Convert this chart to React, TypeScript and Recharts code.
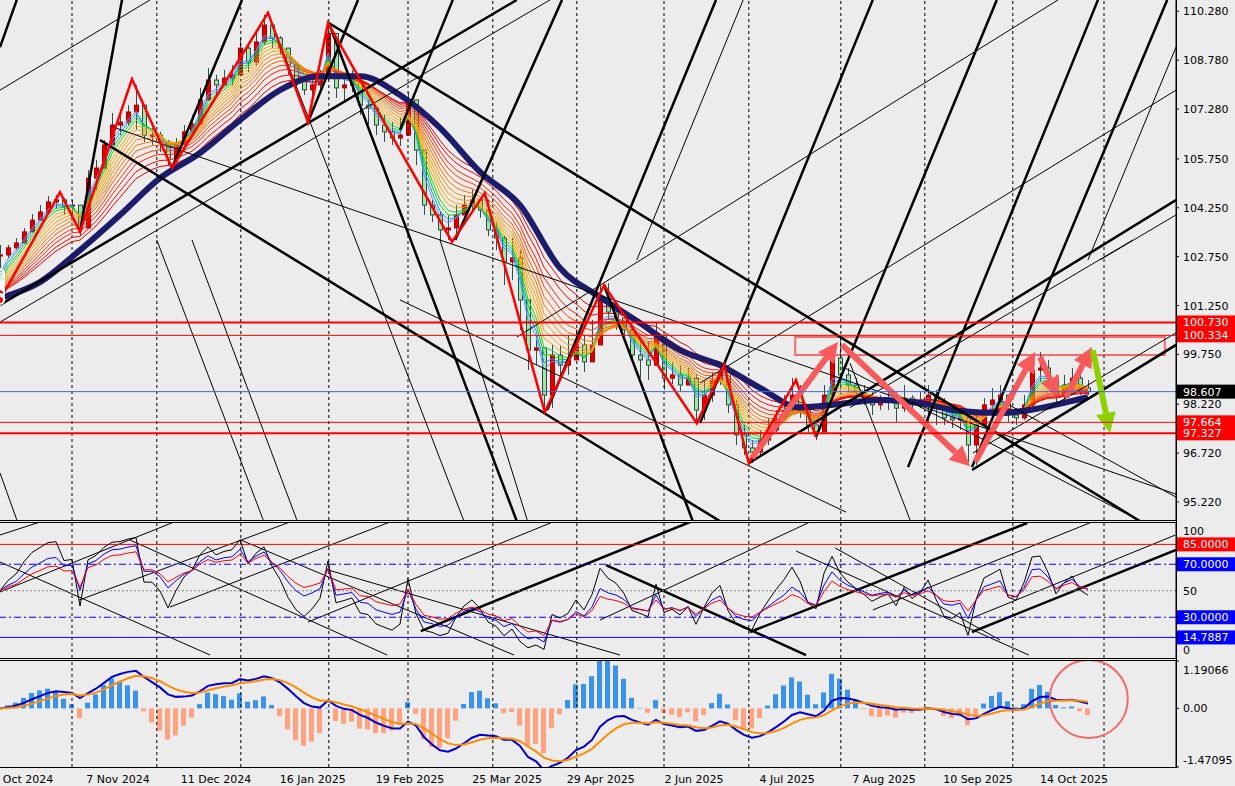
import React from "react";
import {
  ComposedChart,
  Bar,
  Line,
  XAxis,
  YAxis,
  ReferenceLine,
  ReferenceArea,
  ReferenceDot,
  Cell,
} from "recharts";

// one candle per two trading days
const closes = [
  102.8, 103.02, 103.17, 103.51, 103.87, 104.12, 104.43, 104.49, 104.3, 104.33,
  103.63, 105.16, 105.47, 106.18, 106.79, 106.88, 107.19, 107.4, 106.48, 106.48,
  106.27, 105.78, 106.18, 106.58, 106.82, 107.56, 108.17, 108.02, 108.23, 108.33,
  109.15, 108.72, 109.34, 109.86, 109.46, 109.15, 108.63, 108.17, 107.87, 108.02,
  108.23, 109.6, 107.93, 108.02, 108.11, 107.4, 107.31, 106.79, 106.58, 106.39,
  106.48, 107.56, 106.02, 104.33, 104.03, 103.57, 103.63, 104.03, 104.33, 104.49,
  104.18, 103.57, 103.32, 102.59, 102.71, 101.42, 99.88, 99.95, 98.5, 99.73,
  99.42, 99.58, 100.04, 99.52, 100.04, 101.42, 101.05, 100.87, 100.5, 99.73,
  99.58, 99.42, 100.34, 99.02, 99.12, 98.81, 99.02, 98.04, 98.5, 98.96,
  99.21, 98.2, 97.28, 96.88, 96.75, 97.12, 97.43, 97.74, 98.04, 98.5,
  98.2, 97.58, 97.37, 98.5, 99.64, 99.12, 98.81, 98.6, 98.41, 98.2,
  98.29, 98.35, 98.1, 98.41, 98.2, 98.29, 98.5, 98.2, 97.8, 97.74,
  97.8, 96.97, 97.58, 98.2, 98.35, 98.5, 97.89, 97.8, 98.2, 99.27,
  99.33, 99.02, 98.5, 98.81, 99.02, 98.72, 98.607,
];
const highs = [
  103.11, 103.11, 103.32, 103.63, 104.06, 104.33, 104.61, 104.64, 104.55, 104.49,
  104.12, 105.41, 105.72, 106.33, 107.16, 107.19, 107.4, 108.02, 107.0, 106.7,
  106.58, 106.33, 106.39, 106.79, 107.1, 107.93, 108.54, 108.33, 108.48, 108.63,
  109.46, 109.25, 109.64, 110.17, 109.83, 109.52, 109.03, 108.54, 108.23, 108.33,
  108.48, 109.89, 108.42, 108.36, 108.48, 108.05, 107.56, 107.25, 107.1, 106.88,
  107.0, 107.8, 107.56, 105.78, 104.49, 104.12, 104.03, 104.33, 104.64, 104.8,
  104.55, 104.49, 103.81, 103.41, 103.32, 102.95, 100.81, 100.34, 99.88, 100.04,
  100.04, 100.34, 100.5, 100.34, 100.81, 101.88, 101.94, 101.33, 101.05, 100.65,
  100.19, 100.13, 100.74, 99.73, 99.52, 99.42, 99.33, 99.12, 98.96, 99.21,
  99.42, 99.12, 98.35, 97.58, 97.12, 97.43, 97.8, 98.04, 98.5, 99.03,
  98.81, 98.2, 97.74, 98.81, 99.88, 100.25, 99.33, 99.03, 98.81, 98.6,
  98.5, 98.6, 98.6, 98.81, 98.5, 98.6, 98.81, 98.66, 98.41, 98.2,
  98.1, 97.74, 97.89, 98.41, 98.72, 98.81, 98.5, 98.1, 98.5, 99.64,
  99.82, 99.58, 99.12, 99.12, 99.33, 99.21, 98.96,
];
const lows = [
  102.4, 102.71, 102.95, 103.2, 103.72, 103.94, 104.18, 104.24, 104.03, 104.03,
  103.38, 104.24, 104.8, 105.56, 106.33, 106.48, 106.79, 106.64, 106.27, 106.18,
  105.96, 105.56, 105.87, 106.27, 106.64, 106.79, 107.56, 107.71, 108.02, 108.02,
  108.48, 108.42, 108.63, 109.25, 109.15, 108.94, 108.33, 107.93, 107.71, 107.62,
  107.8, 108.17, 107.62, 107.5, 107.8, 107.1, 106.79, 106.48, 106.27, 106.18,
  106.15, 106.79, 105.56, 104.03, 103.81, 103.2, 103.26, 103.41, 104.03, 104.12,
  103.94, 103.38, 102.95, 101.88, 102.03, 100.5, 99.27, 99.42, 97.98, 98.1,
  99.03, 99.12, 99.73, 99.21, 99.58, 100.19, 100.81, 100.5, 100.31, 99.52,
  99.03, 98.96, 99.52, 98.66, 98.84, 98.6, 98.81, 97.64, 97.74, 98.29,
  98.81, 97.95, 96.97, 96.66, 96.42, 96.66, 96.97, 97.37, 97.68, 97.98,
  97.8, 97.37, 97.12, 97.49, 98.6, 98.66, 98.6, 98.35, 98.2, 97.89,
  98.04, 98.04, 97.68, 97.98, 98.04, 98.1, 97.68, 97.58, 97.58, 97.49,
  97.43, 96.45, 96.35, 97.58, 97.98, 98.2, 97.68, 97.58, 97.74, 98.04,
  98.9, 98.81, 98.2, 98.2, 98.6, 98.5, 98.5,
];

// thick navy moving average, read every 5 candles
const navyK = [0, 5, 10, 15, 20, 25, 30, 35, 40, 45, 50, 55, 60, 65, 70, 75, 80, 85, 90, 95, 100, 105, 110, 115, 120, 125, 130, 135, 136];
const navyP = [
  101.48, 101.97, 102.95, 104.03, 105.16, 105.93, 106.94, 107.86, 108.29, 108.29,
  107.71, 106.7, 105.35, 104.33, 102.4, 101.51, 100.71, 99.88, 99.42, 98.72,
  98.12, 98.23, 98.35, 98.26, 98.01, 97.95, 98.1, 98.38, 98.44,
];

// red zigzag swing points
const zigK = [0, 7.5, 10, 16.5, 21.5, 33.5, 38.5, 41, 56.5, 60.6, 68.1, 75.5, 87.1, 90.5, 93.6, 99.5, 102];
const zigP = [101.42, 104.73, 103.51, 108.2, 105.47, 110.23, 106.88, 109.92, 103.2, 104.7, 97.98, 101.88, 97.64, 99.42, 96.41, 98.96, 97.21];

const priceTicks = [110.28, 108.78, 107.28, 105.75, 104.25, 102.75, 101.25, 99.75, 98.22, 96.72, 95.22];
const dateTicks = [3.5, 14.75, 27, 39.1, 51.25, 63.4, 75.1, 86.75, 98.4, 110.5, 122.25, 134.25];
const dateLabels = [
  "Oct 2024", "7 Nov 2024", "11 Dec 2024", "16 Jan 2025", "19 Feb 2025", "25 Mar 2025",
  "29 Apr 2025", "2 Jun 2025", "4 Jul 2025", "7 Aug 2025", "10 Sep 2025", "14 Oct 2025",
];
const gridDays = [9, 19.6, 30.1, 41.1, 51, 61.6, 72.1, 83, 93.6, 105.1, 115.6, 126.6, 138];

// trend lines [k1, price1, k2, price2]
const thickLines = [
  [0, 101.27, 64.6, 110.63],
  [12.5, 106.33, 90, 94.63],
  [41.1, 109.92, 142.5, 94.63],
  [0, 109.18, 2.1, 110.63],
  [10, 103.51, 15.25, 110.63],
  [21.5, 105.47, 30.25, 110.63],
  [38.5, 106.88, 44.75, 110.63],
  [68.4, 98.04, 89.5, 110.63],
  [87.5, 97.64, 109.1, 110.63],
  [102, 97.21, 124.6, 110.63],
  [113.5, 96.29, 137.25, 110.63],
  [121.5, 96.29, 145.9, 110.63],
  [93.6, 96.41, 147, 104.49],
  [121.5, 96.2, 147, 100.04],
  [41.1, 109.92, 64.6, 94.63],
  [75.5, 101.88, 86.6, 94.63],
  [56.9, 103.26, 70.25, 110.63],
  [50, 106.64, 56.6, 110.63],
];
const thinLines = [
  [0, 107.86, 18.75, 110.63],
  [0, 100.74, 68.75, 110.63],
  [19.6, 103.26, 32.9, 94.67],
  [24, 103.26, 37.1, 94.67],
  [33.5, 110.23, 58, 94.63],
  [14.1, 106.73, 147, 95.46],
  [0, 96.11, 2.1, 94.67],
  [64.6, 100.28, 132.25, 110.63],
  [87.5, 98.87, 147, 107.86],
  [136, 102.65, 147, 109.18],
  [137.5, 102.65, 147, 104.03],
  [121.6, 96.72, 147, 100.41],
  [106.25, 98.12, 141.6, 103.26],
  [125, 98.35, 147, 95.37],
  [105.4, 99.36, 141.6, 94.76],
  [106.25, 99.48, 113.75, 94.67],
  [79.6, 102.65, 92.9, 110.63],
  [50, 101.42, 105.75, 94.91],
  [55, 103.26, 65.9, 94.67],
];
const rsiThick = [
  [52.6, 19.6, 86.25, 101.9],
  [93.75, 18.9, 128.4, 101.1],
  [121.5, 18.9, 147, 80.8],
  [75.75, 69.4, 100.75, 1.5],
];
const rsiThin = [
  [0, 92.1, 5, 101.9],
  [0, 49.1, 21.75, 101.9],
  [0, 71.7, 26.25, 1.5],
  [16.25, 88.3, 48.4, 1.5],
  [30.1, 88.3, 64.25, 1.5],
  [41, 65.7, 77.5, 1.5],
  [9.9, 43, 36.25, 101.9],
  [21.25, 37.7, 48.75, 101.9],
  [38.5, 26.4, 69.1, 101.9],
  [75, 27.9, 101.25, 101.9],
  [109.1, 35.5, 136.5, 101.9],
  [121.5, 29.4, 146.9, 92],
  [99.5, 80, 128.6, 1.5],
  [104.4, 82.3, 125, 12.8],
];

// salmon / green arrows [k1, p1, k2, p2]
const redArrows = [
  [94, 96.57, 104.75, 100.13],
  [105.25, 100.04, 121.25, 96.32],
  [121.9, 96.45, 129.4, 99.82],
  [130, 99.67, 132.25, 98.44],
  [133.25, 98.44, 136.5, 99.98],
];
const greenArrow = [136.6, 99.88, 138.75, 97.34];

const ribbonPeriods = [2.5, 3, 3.6, 4.2, 5, 5.8, 6.7, 7.7, 8.8, 10, 11.5, 13, 15, 17];
const ribbonColors = [
  "#5f93f0", "#1e90ff", "#00e000", "#2ccc2c", "#ffa500", "#ffa500", "#ff9c00",
  "#ff8c00", "#ff7400", "#ff5a00", "#ff3c00", "#ff2000", "#ff0000", "#e80000",
];

const ema = (vals: number[], period: number, seed: number) => {
  const a = 2 / (period + 1);
  let e = seed;
  return vals.map((v) => (e = e + a * (v - e)));
};

// Wilder RSI, averages start level so the first values sit near 50
const rsi = (vals: number[], n: number) => {
  let ag = 0.15;
  let al = 0.15;
  return vals.map((v, i) => {
    if (i === 0) return 50;
    const ch = v - vals[i - 1];
    ag = (ag * (n - 1) + Math.max(ch, 0)) / n;
    al = (al * (n - 1) + Math.max(-ch, 0)) / n;
    return al === 0 ? 100 : 100 - 100 / (1 + ag / al);
  });
};

const ribbons = ribbonPeriods.map((p) => ema(closes, p, navyP[0]));
const rows = closes.map((c, i) => {
  const open = i ? closes[i - 1] : c;
  const high = Math.max(highs[i], open, c);
  const low = Math.min(lows[i], open, c);
  const r: any = { k: i, close: c, open, high, low, range: [low, high] };
  ribbons.forEach((s, j) => (r["r" + j] = s[i]));
  return r;
});

const fast = ema(closes, 6, closes[0]);
const slow = ema(closes, 13, closes[0]);
const macd = fast.map((f, i) => f - slow[i]);
const signal = ema(macd, 5, 0);
const rBlack = rsi(closes, 5);
const rBlue = rsi(closes, 9);
const rRed = rsi(closes, 13);
const ind = closes.map((_, i) => ({
  k: i,
  macd: macd[i],
  signal: signal[i],
  hist: 3.6 * (macd[i] - signal[i]),
  rb: rBlack[i],
  rbl: rBlue[i],
  rr: rRed[i],
}));

const navyData = navyK.map((k, i) => ({ k, p: navyP[i] }));
const zigData = zigK.map((k, i) => ({ k, p: zigP[i] }));

const FONT = "'DejaVu Sans', Verdana, sans-serif";
const X_DOMAIN: [number, number] = [0, 147];

const Candle = (props: any) => {
  const { x, y, width, height, payload } = props;
  if (x == null || y == null || !payload) return null;
  const { open, close, high, low } = payload;
  const ppu = height / Math.max(high - low, 1e-6);
  const top = y + (high - Math.max(open, close)) * ppu;
  const bot = y + (high - Math.min(open, close)) * ppu;
  const cx = Math.round(x + width / 2) + 0.5;
  const up = close >= open;
  return (
    <g>
      <line x1={cx} x2={cx} y1={y} y2={y + height} stroke="#2f4f4f" strokeWidth={1} />
      <rect
        x={cx - 2}
        y={top}
        width={4}
        height={Math.max(bot - top, 1)}
        fill={up ? "#e00000" : "#9fe89f"}
        stroke={up ? "#a80000" : "#2e4a4a"}
        strokeWidth={1}
      />
    </g>
  );
};

const Arrow = (color: string) => (props: any) => {
  const { x1, y1, x2, y2 } = props;
  const dx = x2 - x1;
  const dy = y2 - y1;
  const len = Math.sqrt(dx * dx + dy * dy);
  const ux = dx / len;
  const uy = dy / len;
  const hl = 20;
  const hw = 10;
  const bx = x2 - ux * hl;
  const by = y2 - uy * hl;
  return (
    <g>
      <line x1={x1} y1={y1} x2={bx} y2={by} stroke={color} strokeWidth={6} />
      <polygon
        points={`${x2},${y2} ${bx - uy * hw},${by + ux * hw} ${bx + uy * hw},${by - ux * hw}`}
        fill={color}
      />
    </g>
  );
};

const tag = (bg: string, text: string) => (props: any) => {
  const vb = props.viewBox;
  const x = vb.x + vb.width + 1;
  return (
    <g>
      <rect x={x} y={vb.y - 7} width={58} height={14} fill={bg} />
      <text x={x + 6} y={vb.y + 4} fill="#fff" fontSize={11} fontFamily={FONT}>
        {text}
      </text>
    </g>
  );
};

const segs = (list: number[][], width: number, key: string) =>
  list.map((l, i) => (
    <ReferenceLine
      key={key + i}
      segment={[{ x: l[0], y: l[1] }, { x: l[2], y: l[3] }]}
      stroke="#000"
      strokeWidth={width}
      ifOverflow="hidden"
    />
  ));

const grid = (key: string) =>
  gridDays.map((g) => (
    <ReferenceLine key={key + g} x={g} stroke="#000" strokeDasharray="3 3" strokeWidth={1} />
  ));

const AxisTick = (fmt: (v: number) => string, shift?: (v: number) => number) => (props: any) => {
  const v = props.payload.value;
  return (
    <text x={props.x} y={props.y + 4 + (shift ? shift(v) : 0)} fontSize={11} fontFamily={FONT} fill="#000">
      {fmt(v)}
    </text>
  );
};

const hLine = (x: number, y: number, w: number, h: number) => (
  <div style={{ position: "absolute", left: x, top: y, width: w, height: h, background: "#000" }} />
);

export default function App() {
  return (
    <div
      style={{
        position: "absolute",
        left: 0,
        top: 0,
        width: 1235,
        height: 786,
        background: "#ececec",
        overflow: "hidden",
        fontFamily: FONT,
      }}
    >
      <div style={{ position: "absolute", left: 0, top: 0 }}>
        <ComposedChart width={1235} height={520} data={rows} margin={{ top: 0, right: 0, bottom: 0, left: 0 }}>
          <XAxis type="number" dataKey="k" domain={X_DOMAIN} allowDataOverflow hide />
          <YAxis
            orientation="right"
            width={59}
            domain={[94.667, 110.627]}
            allowDataOverflow
            ticks={priceTicks}
            interval={0}
            tickSize={3}
            tickMargin={4}
            stroke="#000"
            tick={AxisTick((v) => v.toFixed(3))}
          />
          {grid("g")}
          {ribbonPeriods.map((_, j) => (
            <Line
              key={"r" + j}
              dataKey={"r" + j}
              stroke={ribbonColors[j]}
              strokeWidth={1}
              dot={false}
              type="linear"
              isAnimationActive={false}
            />
          ))}
          <Bar dataKey="range" barSize={6} shape={Candle} isAnimationActive={false} />
          <Line
            data={navyData}
            dataKey="p"
            stroke="#1c1c6a"
            strokeWidth={6}
            dot={false}
            type="monotone"
            isAnimationActive={false}
          />
          {segs(thinLines, 1, "tn")}
          {segs(thickLines, 2.5, "tk")}
          <Line
            data={zigData}
            dataKey="p"
            stroke="#ff0000"
            strokeWidth={2.5}
            dot={false}
            type="linear"
            isAnimationActive={false}
          />
          <ReferenceArea
            x1={99.4}
            x2={145.6}
            y1={99.73}
            y2={100.28}
            fill="none"
            stroke="#f76a6a"
            strokeWidth={2}
          />
          {redArrows.map((a, i) => (
            <ReferenceLine
              key={"a" + i}
              segment={[{ x: a[0], y: a[1] }, { x: a[2], y: a[3] }]}
              shape={Arrow("#f75a5a")}
              ifOverflow="hidden"
            />
          ))}
          <ReferenceLine
            segment={[{ x: greenArrow[0], y: greenArrow[1] }, { x: greenArrow[2], y: greenArrow[3] }]}
            shape={Arrow("#8fd000")}
            ifOverflow="hidden"
          />
          <ReferenceLine y={100.73} stroke="#ff0000" strokeWidth={2} label={tag("#ff0000", "100.730")} />
          <ReferenceLine y={100.334} stroke="#ff0000" strokeWidth={1} label={tag("#ff0000", "100.334")} />
          <ReferenceLine y={98.607} stroke="#4169e1" strokeWidth={1} label={tag("#000000", "98.607")} />
          <ReferenceLine y={97.664} stroke="#ff0000" strokeWidth={1} label={tag("#ff0000", "97.664")} />
          <ReferenceLine y={97.327} stroke="#ff0000" strokeWidth={2} label={tag("#ff0000", "97.327")} />
        </ComposedChart>
      </div>

      <div style={{ position: "absolute", left: 0, top: 522 }}>
        <ComposedChart width={1235} height={136} data={ind} margin={{ top: 0, right: 0, bottom: 0, left: 0 }}>
          <XAxis type="number" dataKey="k" domain={X_DOMAIN} allowDataOverflow hide />
          <YAxis
            orientation="right"
            width={59}
            domain={[-0.75, 101.9]}
            allowDataOverflow
            ticks={[0, 50, 100]}
            interval={0}
            tickSize={0}
            tickMargin={7}
            stroke="#000"
            tick={AxisTick((v) => String(v), (v) => (v === 100 ? 6 : v === 0 ? -7 : 0))}
          />
          {grid("rg")}
          {segs(rsiThin, 1, "rt")}
          {segs(rsiThick, 2.5, "rk")}
          <ReferenceLine y={50} stroke="#808080" strokeDasharray="2 2" />
          <ReferenceLine y={85} stroke="#ff0000" label={tag("#ff0000", "85.0000")} />
          <ReferenceLine y={70} stroke="#0000ff" strokeDasharray="7 3 2 3" label={tag("#0000ff", "70.0000")} />
          <ReferenceLine y={30} stroke="#0000ff" strokeDasharray="7 3 2 3" label={tag("#0000ff", "30.0000")} />
          <ReferenceLine y={14.7887} stroke="#0000ff" label={tag("#0000ff", "14.7887")} />
          <Line dataKey="rb" stroke="#000" strokeWidth={1} dot={false} type="linear" isAnimationActive={false} />
          <Line dataKey="rbl" stroke="#0000ff" strokeWidth={1} dot={false} type="linear" isAnimationActive={false} />
          <Line dataKey="rr" stroke="#ff0000" strokeWidth={1} dot={false} type="linear" isAnimationActive={false} />
        </ComposedChart>
      </div>

      <div style={{ position: "absolute", left: 0, top: 660 }}>
        <ComposedChart width={1235} height={126} data={ind} margin={{ top: 0, right: 0, bottom: 0, left: 0 }}>
          <XAxis
            type="number"
            dataKey="k"
            domain={X_DOMAIN}
            allowDataOverflow
            ticks={dateTicks}
            interval={0}
            height={19}
            tickLine={false}
            axisLine={false}
            tick={(p: any) => (
              <text x={p.x} y={p.y + 8} textAnchor="middle" fontSize={11} fontFamily={FONT} fill="#000">
                {dateLabels[p.index]}
              </text>
            )}
          />
          <YAxis
            orientation="right"
            width={59}
            domain={[-1.472, 1.216]}
            allowDataOverflow
            ticks={[1.19066, 0, -1.47095]}
            interval={0}
            tickSize={3}
            tickMargin={4}
            stroke="#000"
            tick={AxisTick(
              (v) => (v === 0 ? "0.00" : v.toFixed(5)),
              (v) => (v > 1 ? 9 : v < -1 ? -7 : 0)
            )}
          />
          {grid("mg")}
          <Bar dataKey="hist" barSize={5} isAnimationActive={false}>
            {ind.map((d, i) => (
              <Cell key={i} fill={d.hist >= 0 ? "#3a92ea" : "#ffa27f"} />
            ))}
          </Bar>
          <Line dataKey="macd" stroke="#0000cd" strokeWidth={2} dot={false} type="linear" isAnimationActive={false} />
          <Line dataKey="signal" stroke="#ff8c00" strokeWidth={2} dot={false} type="linear" isAnimationActive={false} />
          <ReferenceDot x={136.1} y={0.236} r={39} fill="none" stroke="#f06a6a" strokeWidth={2} ifOverflow="visible" />
        </ComposedChart>
      </div>

      {hLine(0, 520, 1176, 1)}
      {hLine(0, 522, 1176, 1)}
      {hLine(0, 658, 1176, 1)}
      {hLine(0, 660, 1176, 1)}
      {hLine(0, 767, 1177, 1)}
      {hLine(1176, 0, 1, 768)}
    </div>
  );
}
